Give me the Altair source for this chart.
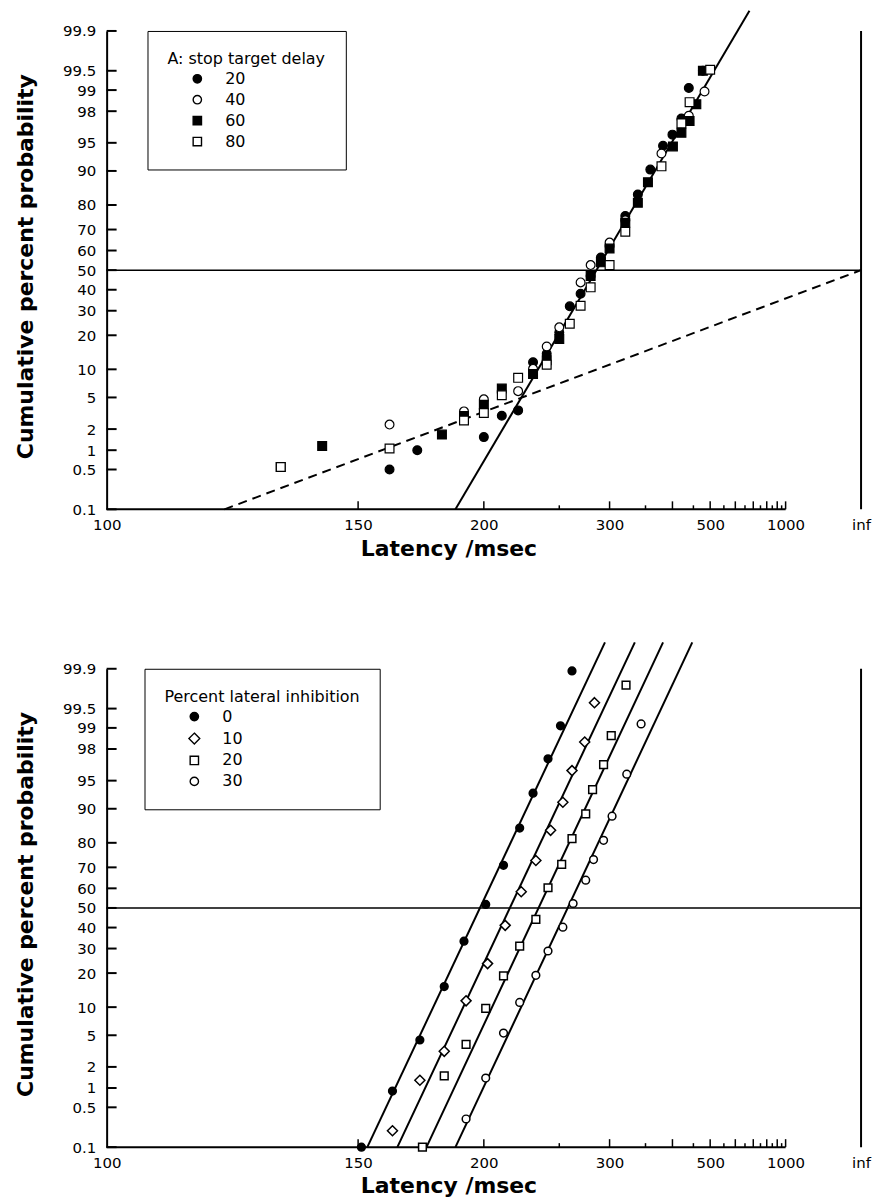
import altair as alt
import pandas as pd
import numpy as np
from statistics import NormalDist

# ---------------- data (latency in ms, cumulative percent) ----------------
# Panel A: stop target delay
delay_20_lat = [160, 170, 200, 210, 220, 230, 240, 250, 259, 269, 279, 290, 300, 320, 338, 358, 381, 400, 420, 438, 477]
delay_20_pct = [0.5, 1.0, 1.55, 3.0, 3.5, 11.7, 14, 21, 32, 38, 47, 56.5, 62.3, 75.8, 83.6, 90.3, 94.6, 96, 97.5, 99.07, 99.5]
delay_40_lat = [160, 190, 200, 220, 230, 240, 250, 269, 279, 300, 320, 378, 438, 482]
delay_40_pct = [2.3, 3.4, 4.75, 5.9, 10.1, 16.2, 23, 43.7, 52.6, 63.9, 74, 93.4, 97.7, 98.95]
delay_60_lat = [130, 140, 180, 190, 200, 210, 230, 240, 250, 279, 290, 300, 320, 338, 354, 401, 420, 440, 458, 477]
delay_60_pct = [0.55, 1.15, 1.68, 2.98, 4.1, 6.3, 9.0, 12.2, 18.7, 47, 54, 61, 73, 80.8, 87.2, 94.5, 96.2, 97.3, 98.4, 99.5]
delay_80_lat = [130, 160, 190, 200, 210, 220, 240, 259, 269, 279, 300, 320, 378, 420, 440, 500]
delay_80_pct = [0.55, 1.06, 2.6, 3.25, 5.3, 8.2, 11.1, 24.4, 32.3, 41.2, 52.6, 69, 91, 97.1, 98.5, 99.52]

# fitted lines of panel A: (latency, percent) end points
a_solid_lat = [186, 676]
a_solid_pct = [0.1, 99.96]
a_dash_lat = [118.5, np.inf]
a_dash_pct = [0.1, 50]

# Panel B: percent lateral inhibition
inh_0_lat = [151, 161, 171, 181, 190, 201, 211, 221, 230, 241, 251, 261]
inh_0_pct = [0.1, 0.9, 4.4, 15.5, 33.4, 51.8, 70.9, 84.9, 93.1, 97.3, 99.07, 99.89]
inh_10_lat = [161, 171, 181, 191, 202, 212, 222, 232, 243, 253, 261, 273, 283]
inh_10_pct = [0.2, 1.3, 3.2, 11.5, 23.6, 41.1, 58.3, 73.0, 84.2, 91.4, 96.2, 98.4, 99.6]
inh_20_lat = [172, 181, 191, 201, 211, 221, 232, 241, 252, 261, 274, 281, 293, 302, 321]
inh_20_pct = [0.1, 1.5, 3.9, 9.7, 19.0, 31.1, 44.1, 60.3, 71.3, 81.5, 88.8, 93.7, 96.8, 98.7, 99.8]
inh_30_lat = [191, 201, 211, 221, 232, 241, 253, 262, 274, 282, 293, 303, 322, 343]
inh_30_pct = [0.32, 1.4, 5.3, 11.1, 19.2, 28.9, 40.2, 52.3, 64.0, 73.4, 80.9, 88.2, 95.8, 99.13]

# fitted lines of panel B: latency at bottom / top percent
b_line_lat_low = [152.8, 162.7, 173.6, 186.0]
b_line_lat_high = [294.6, 333.5, 381.0, 447.0]
b_line_pct = [0.1, 99.97]

# axis ticks
x_label_lat = [100, 150, 200, 300, 500, 1000, np.inf]
x_long_tick_lat = [150, 200, 300, 400, 500, 600, 700, 800, 900, 1000]
x_short_tick_lat = [250, 350, 450, 550, 650, 750, 850, 950]
x_axis_span_lat = [100, 1000]
y_tick_pct = [0.1, 0.5, 1, 2, 5, 10, 20, 30, 40, 50, 60, 70, 80, 90, 95, 98, 99, 99.5, 99.9]
y_tick_lbl = ["0.1", "0.5", "1", "2", "5", "10", "20", "30", "40", "50", "60", "70", "80", "90", "95", "98", "99", "99.5", "99.9"]

# ---------------- helpers ----------------
ND = NormalDist()


def probit(p):
    return ND.inv_cdf(p / 100.0)


def recip(t):
    return -1000.0 / t


W, H = 757, 480
FONT = "DejaVu Sans"
DIAMOND = "M0,-1.3L1.3,0L0,1.3L-1.3,0Z"

x_scale = alt.Scale(domain=[-10, 0], nice=False, zero=False)
y_scale = alt.Scale(domain=[probit(0.1), probit(99.9)], nice=False, zero=False)

# y label expression
y_vals = [probit(p) for p in y_tick_pct]
expr = "''"
for z, lab in zip(y_vals, y_tick_lbl):
    expr = f"abs(datum.value - ({z:.6f})) < 0.001 ? '{lab}' : " + expr

x_vals = [float(recip(t)) for t in x_label_lat]
x_vals = [0.0 if v == 0 else v for v in x_vals]

X_AXIS = alt.Axis(
    values=x_vals,
    labelExpr="datum.value == 0 ? 'inf' : format(-1000/datum.value, '.0f')",
    domain=False, ticks=False, grid=False,
    labelFont=FONT, labelFontSize=15, labelColor="black", labelPadding=8,
    labelFlush=False, labelOverlap=False,
    title="Latency /msec", titleFont=FONT, titleFontSize=22, titleFontWeight="bold",
    titleColor="black", titleX=343, titleY=46, titleAlign="center", titleBaseline="alphabetic",
)
Y_AXIS = alt.Axis(
    values=y_vals, labelExpr=expr,
    domain=True, domainColor="black", domainWidth=2,
    ticks=False, grid=False,
    labelFont=FONT, labelFontSize=15, labelColor="black", labelPadding=11,
    labelOverlap=False,
    title="Cumulative percent probability", titleFont=FONT, titleFontSize=22,
    titleFontWeight="bold", titleColor="black",
    titleX=-74, titleY=236, titleAngle=270, titleAlign="center", titleBaseline="alphabetic",
)


def X(field="rx"):
    return alt.X(f"{field}:Q", scale=x_scale, axis=X_AXIS)


def Y(field="z"):
    return alt.Y(f"{field}:Q", scale=y_scale, axis=Y_AXIS)


def frame_layers():
    hline = alt.Chart(pd.DataFrame({"rx": [recip(100)], "rx2": [0.0], "z": [0.0]})).mark_rule(
        color="black", strokeWidth=1.5).encode(x=X(), x2="rx2:Q", y=Y())
    infline = alt.Chart(pd.DataFrame({"rx": [0.0], "z": [probit(0.1)], "z2": [probit(99.9)]})).mark_rule(
        color="black", strokeWidth=2).encode(x=X(), y=Y(), y2="z2:Q")
    xline = alt.Chart(pd.DataFrame({"rx": [recip(x_axis_span_lat[0])], "rx2": [recip(x_axis_span_lat[1])],
                                    "z": [probit(0.1)]})).mark_rule(
        color="black", strokeWidth=2).encode(x=X(), x2="rx2:Q", y=Y())
    yticks = alt.Chart(pd.DataFrame({"z": y_vals})).mark_rule(color="black", strokeWidth=2).encode(
        y=Y(), x=alt.value(0), x2=alt.value(10))
    xlong = alt.Chart(pd.DataFrame({"rx": [recip(t) for t in x_long_tick_lat]})).mark_rule(
        color="black", strokeWidth=1.5).encode(x=X(), y=alt.value(H), y2=alt.value(H - 8))
    xshort = alt.Chart(pd.DataFrame({"rx": [recip(t) for t in x_short_tick_lat]})).mark_rule(
        color="black", strokeWidth=1.5).encode(x=X(), y=alt.value(H), y2=alt.value(H - 4))
    return [hline, infline, xline, yticks, xlong, xshort]


def legend(title, lx):
    return alt.Legend(
        title=title, orient="none", legendX=lx, legendY=0,
        padding=20, strokeColor="black", fillColor="white",
        titleFont=FONT, titleFontSize=16, titleFontWeight="normal", titleColor="black",
        titlePadding=4, titleLimit=500,
        labelFont=FONT, labelFontSize=16, labelColor="black",
        symbolOffset=22, labelOffset=20, rowPadding=5,
        symbolStrokeColor="black", symbolStrokeWidth=1.4, symbolSize=70,
    )


# ---------------- panel A ----------------
rows = []
for name, lat, pct in [("20", delay_20_lat, delay_20_pct), ("40", delay_40_lat, delay_40_pct),
                       ("60", delay_60_lat, delay_60_pct), ("80", delay_80_lat, delay_80_pct)]:
    for t, p in zip(lat, pct):
        rows.append({"rx": recip(t), "z": probit(p), "series": name})
dfA = pd.DataFrame(rows)

domA = ["20", "40", "60", "80"]
legA = legend("A: stop target delay", 41)
pointsA = alt.Chart(dfA).mark_point(filled=True, strokeWidth=1.2, size=78, opacity=1).encode(
    x=X(), y=Y(),
    shape=alt.Shape("series:N", scale=alt.Scale(domain=domA,
                                                range=["circle", "circle", "square", "square"]), legend=legA),
    fill=alt.Fill("series:N", scale=alt.Scale(domain=domA,
                                              range=["black", "white", "black", "white"]), legend=legA),
    stroke=alt.Stroke("series:N", scale=alt.Scale(domain=domA, range=["black"] * 4), legend=legA),
)
solidA = alt.Chart(pd.DataFrame({"rx": [recip(t) for t in a_solid_lat],
                                 "z": [probit(p) for p in a_solid_pct]})).mark_line(
    color="black", strokeWidth=2, clip=False).encode(x=X(), y=Y())
dashA = alt.Chart(pd.DataFrame({"rx": [float(recip(t)) for t in a_dash_lat],
                                "z": [probit(p) for p in a_dash_pct]})).mark_line(
    color="black", strokeWidth=2, strokeDash=[9, 6], clip=False).encode(x=X(), y=Y())

top = alt.layer(*frame_layers(), solidA, dashA, pointsA).properties(width=W, height=H)

# ---------------- panel B ----------------
rows = []
for name, lat, pct in [("0", inh_0_lat, inh_0_pct), ("10", inh_10_lat, inh_10_pct),
                       ("20", inh_20_lat, inh_20_pct), ("30", inh_30_lat, inh_30_pct)]:
    for t, p in zip(lat, pct):
        rows.append({"rx": recip(t), "z": probit(p), "series": name})
dfB = pd.DataFrame(rows)

lrows = []
for i, (lo, hi) in enumerate(zip(b_line_lat_low, b_line_lat_high)):
    lrows.append({"rx": recip(lo), "z": probit(b_line_pct[0]), "line": i})
    lrows.append({"rx": recip(hi), "z": probit(b_line_pct[1]), "line": i})
linesB = alt.Chart(pd.DataFrame(lrows)).mark_line(color="black", strokeWidth=2, clip=False).encode(
    x=X(), y=Y(), detail="line:N")

domB = ["0", "10", "20", "30"]
legB = legend("Percent lateral inhibition", 38)
pointsB = alt.Chart(dfB).mark_point(filled=True, strokeWidth=1.5, size=60, opacity=1).encode(
    x=X(), y=Y(),
    shape=alt.Shape("series:N", scale=alt.Scale(domain=domB,
                                                range=["circle", DIAMOND, "square", "circle"]), legend=legB),
    fill=alt.Fill("series:N", scale=alt.Scale(domain=domB,
                                              range=["black", "white", "white", "white"]), legend=legB),
    stroke=alt.Stroke("series:N", scale=alt.Scale(domain=domB, range=["black"] * 4), legend=legB),
)

bottom = alt.layer(*frame_layers(), linesB, pointsB).properties(width=W, height=H)

chart = alt.vconcat(top, bottom, spacing=160, bounds="flush").resolve_scale(
    shape="independent", fill="independent", stroke="independent"
).resolve_legend(shape="independent", fill="independent", stroke="independent").properties(
    padding={"left": 14, "top": 4, "right": 5, "bottom": 5},
    background="white",
).configure_view(stroke=None)

chart.save("out.html", embed_options={"renderer": "svg", "actions": False})
